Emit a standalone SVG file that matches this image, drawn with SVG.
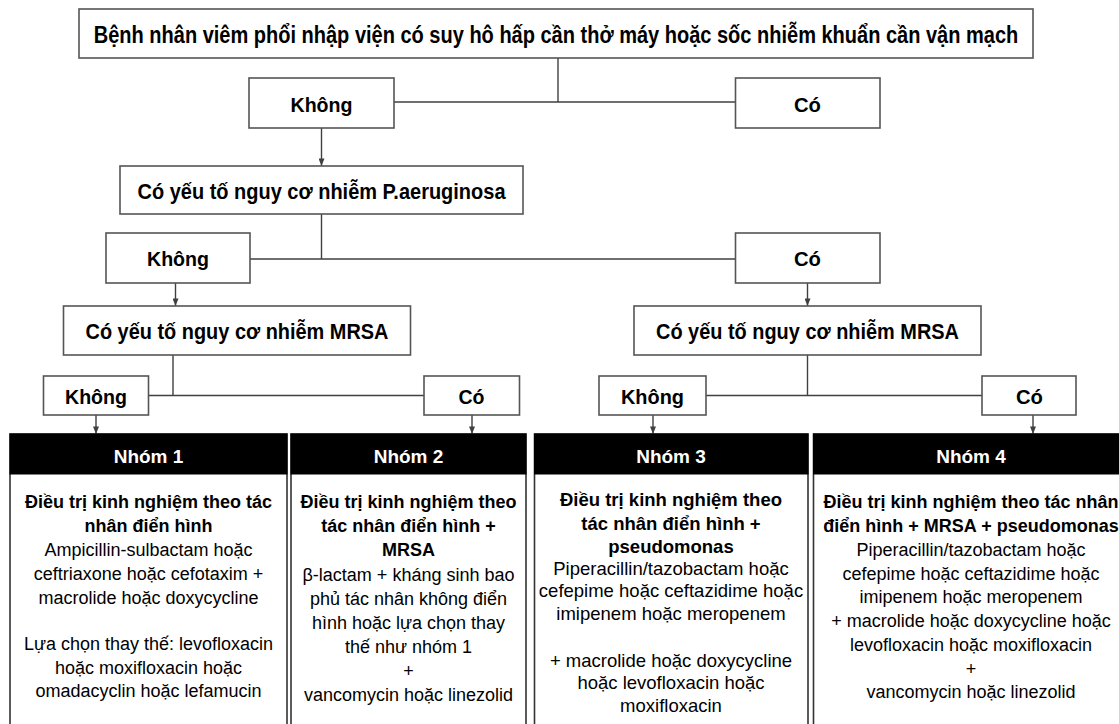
<svg xmlns="http://www.w3.org/2000/svg" width="1119" height="724" viewBox="0 0 1119 724">
<style>
.box{fill:#fff;stroke:#555;stroke-width:1.6}
.col{fill:#fff;stroke:#333;stroke-width:1.6}
.band{fill:#000;stroke:#000;stroke-width:1}
.h{font-family:"Liberation Sans",Arial,sans-serif;font-weight:bold;fill:#000;text-anchor:middle}
.nh{font-family:"Liberation Sans",Arial,sans-serif;font-weight:bold;fill:#fff;text-anchor:middle;font-size:19px}
.b{font-family:"Liberation Sans",Arial,sans-serif;font-weight:bold;fill:#000;text-anchor:middle;font-size:18px}
.r{font-family:"Liberation Sans",Arial,sans-serif;fill:#000;text-anchor:middle;font-size:18px}
.c3{font-size:18.5px}
.conn line,.conn path{stroke:#404040;stroke-width:1.4;fill:none}
</style>
<defs>
<marker id="arr" viewBox="0 0 10 8" markerWidth="8" markerHeight="6" refX="10" refY="4" orient="auto" markerUnits="userSpaceOnUse">
<path d="M0,0 L10,4 L0,8 z" fill="#404040"/>
</marker>
</defs>
<rect width="1119" height="724" fill="#fff"/>

<g class="conn">
<path d="M558,58 V102 M394,102 H735.5"/>
<line x1="321.5" y1="128" x2="321.5" y2="166" marker-end="url(#arr)"/>
<path d="M321.5,214 V259 M250,259 H735.5"/>
<line x1="175.5" y1="283" x2="175.5" y2="306" marker-end="url(#arr)"/>
<line x1="807.5" y1="283" x2="807.5" y2="306" marker-end="url(#arr)"/>
<path d="M173,355 V395.5 M148.5,395.5 H424"/>
<path d="M807.5,355 V395.5 M706,395.5 H982"/>
<line x1="96" y1="415" x2="96" y2="434" marker-end="url(#arr)"/>
<line x1="472" y1="415" x2="472" y2="434" marker-end="url(#arr)"/>
<line x1="653" y1="415" x2="653" y2="434" marker-end="url(#arr)"/>
<line x1="1033" y1="415" x2="1033" y2="434" marker-end="url(#arr)"/>
</g>

<g id="n-start">
<rect class="box" x="79" y="9" width="954" height="49"/>
<text class="h" transform="translate(556,42.5) scale(0.87,1)" x="0" y="0" font-size="23">Bệnh nhân viêm phổi nhập viện có suy hô hấp cần thở máy hoặc sốc nhiễm khuẩn cần vận mạch</text>
</g>
<g id="n-khong1">
<rect class="box" x="249" y="78" width="145" height="50"/>
<text class="h" x="321.5" y="111.5" font-size="21" textLength="62" lengthAdjust="spacingAndGlyphs">Không</text>
</g>
<g id="n-co1">
<rect class="box" x="735.5" y="78" width="144.5" height="50"/>
<text class="h" x="807.5" y="111.5" font-size="21" textLength="27" lengthAdjust="spacingAndGlyphs">Có</text>
</g>
<g id="n-pae">
<rect class="box" x="120" y="166" width="403" height="48"/>
<text class="h" x="321.5" y="199" font-size="22.5" textLength="368" lengthAdjust="spacingAndGlyphs">Có yếu tố nguy cơ nhiễm P.aeruginosa</text>
</g>
<g id="n-khong2">
<rect class="box" x="106" y="233" width="144" height="50"/>
<text class="h" x="178" y="266" font-size="21" textLength="62" lengthAdjust="spacingAndGlyphs">Không</text>
</g>
<g id="n-co2">
<rect class="box" x="735.5" y="233" width="144.5" height="50"/>
<text class="h" x="807.5" y="266" font-size="21" textLength="27" lengthAdjust="spacingAndGlyphs">Có</text>
</g>
<g id="n-mrsa-l">
<rect class="box" x="63.5" y="306" width="347" height="49"/>
<text class="h" x="237" y="339" font-size="22.5" textLength="303" lengthAdjust="spacingAndGlyphs">Có yếu tố nguy cơ nhiễm MRSA</text>
</g>
<g id="n-mrsa-r">
<rect class="box" x="634" y="306" width="347" height="49"/>
<text class="h" x="807.5" y="339" font-size="22.5" textLength="303" lengthAdjust="spacingAndGlyphs">Có yếu tố nguy cơ nhiễm MRSA</text>
</g>
<g id="n-khong3l">
<rect class="box" x="43.5" y="376" width="105" height="39"/>
<text class="h" x="96" y="404" font-size="21" textLength="62" lengthAdjust="spacingAndGlyphs">Không</text>
</g>
<g id="n-co3l">
<rect class="box" x="424" y="376" width="95.5" height="39"/>
<text class="h" x="471.5" y="403.5" font-size="21" textLength="26" lengthAdjust="spacingAndGlyphs">Có</text>
</g>
<g id="n-khong3r">
<rect class="box" x="599" y="376" width="107" height="39"/>
<text class="h" x="652.5" y="404" font-size="21" textLength="63" lengthAdjust="spacingAndGlyphs">Không</text>
</g>
<g id="n-co3r">
<rect class="box" x="982" y="376" width="94" height="39"/>
<text class="h" x="1029.5" y="403.5" font-size="21" textLength="27" lengthAdjust="spacingAndGlyphs">Có</text>
</g>

<g id="n-nhom1">
<rect class="col" x="10" y="434" width="277" height="300"/>
<rect class="band" x="10" y="434" width="277" height="40"/>
<text class="nh" x="148.5" y="463">Nhóm 1</text>
<text class="b" x="148.5" y="508">Điều trị kinh nghiệm theo tác</text>
<text class="b" x="148.5" y="532">nhân điển hình</text>
<text class="r" x="148.5" y="556">Ampicillin-sulbactam hoặc</text>
<text class="r" x="148.5" y="580">ceftriaxone hoặc cefotaxim +</text>
<text class="r" x="148.5" y="604">macrolide hoặc doxycycline</text>
<text class="r" x="148.5" y="650">Lựa chọn thay thế: levofloxacin</text>
<text class="r" x="148.5" y="674">hoặc moxifloxacin hoặc</text>
<text class="r" x="148.5" y="697">omadacyclin hoặc lefamucin</text>
</g>
<g id="n-nhom2">
<rect class="col" x="291" y="434" width="235" height="300"/>
<rect class="band" x="291" y="434" width="235" height="40"/>
<text class="nh" x="408.5" y="463">Nhóm 2</text>
<text class="b" x="408.5" y="508">Điều trị kinh nghiệm theo</text>
<text class="b" x="408.5" y="532">tác nhân điển hình +</text>
<text class="b" x="408.5" y="556">MRSA</text>
<text class="r" x="408.5" y="581">β-lactam + kháng sinh bao</text>
<text class="r" x="408.5" y="605">phủ tác nhân không điển</text>
<text class="r" x="408.5" y="629">hình hoặc lựa chọn thay</text>
<text class="r" x="408.5" y="653">thế như nhóm 1</text>
<text class="r" x="408.5" y="677">+</text>
<text class="r" x="408.5" y="701">vancomycin hoặc linezolid</text>
</g>
<g id="n-nhom3">
<rect class="col" x="534.5" y="434" width="273.5" height="300"/>
<rect class="band" x="534.5" y="434" width="273.5" height="40"/>
<text class="nh" x="671" y="463">Nhóm 3</text>
<text class="b c3" x="671" y="506">Điều trị kinh nghiệm theo</text>
<text class="b c3" x="671" y="529.5">tác nhân điển hình +</text>
<text class="b c3" x="671" y="552.5">pseudomonas</text>
<text class="r c3" x="671" y="574.5">Piperacillin/tazobactam hoặc</text>
<text class="r c3" x="671" y="597">cefepime hoặc ceftazidime hoặc</text>
<text class="r c3" x="671" y="619.5">imipenem hoặc meropenem</text>
<text class="r c3" x="671" y="666.5">+ macrolide hoặc doxycycline</text>
<text class="r c3" x="671" y="689">hoặc levofloxacin hoặc</text>
<text class="r c3" x="671" y="712">moxifloxacin</text>
</g>
<g id="n-nhom4">
<rect class="col" x="813.5" y="434" width="316" height="300"/>
<rect class="band" x="813.5" y="434" width="316" height="40"/>
<text class="nh" x="971" y="463">Nhóm 4</text>
<text class="b" x="971" y="508">Điều trị kinh nghiệm theo tác nhân</text>
<text class="b" x="971" y="532">điển hình + MRSA + pseudomonas</text>
<text class="r" x="971" y="556">Piperacillin/tazobactam hoặc</text>
<text class="r" x="971" y="579.5">cefepime hoặc ceftazidime hoặc</text>
<text class="r" x="971" y="603">imipenem hoặc meropenem</text>
<text class="r" x="971" y="627">+ macrolide hoặc doxycycline hoặc</text>
<text class="r" x="971" y="651">levofloxacin hoặc moxifloxacin</text>
<text class="r" x="971" y="675">+</text>
<text class="r" x="971" y="698">vancomycin hoặc linezolid</text>
</g>
</svg>
